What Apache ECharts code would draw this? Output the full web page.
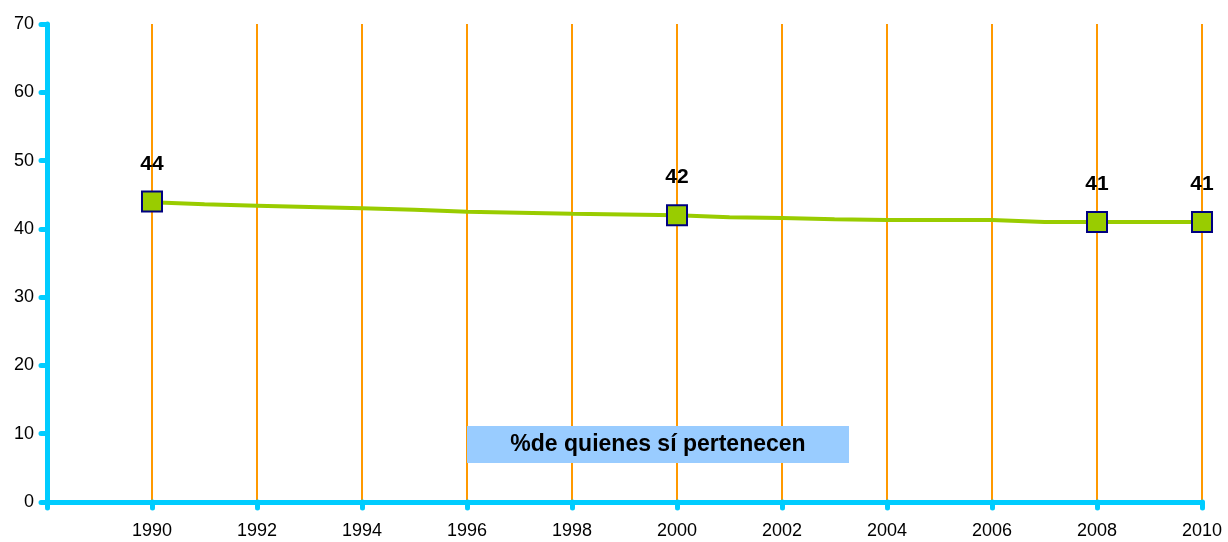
<!DOCTYPE html>
<html>
<head>
<meta charset="utf-8">
<script src="https://cdn.jsdelivr.net/npm/echarts@6/dist/echarts.min.js"></script>
<style>
  html, body { margin: 0; padding: 0; background: #fff; }
  #chart { width: 1228px; height: 542px; }
</style>
</head>
<body>
<div id="chart"></div>
<script>
// datos
var years = [1990, 1991, 1992, 1993, 1994, 1995, 1996, 1997, 1998, 1999, 2000,
             2001, 2002, 2003, 2004, 2005, 2006, 2007, 2008, 2009, 2010];
var pct = [43.9, 43.6, 43.4, 43.2, 43.0, 42.8, 42.5, 42.35, 42.2, 42.1, 42.0,
           41.7, 41.6, 41.4, 41.3, 41.3, 41.3, 41.0, 41.0, 41.0, 41.0];
var surveyYears = [1990, 2000, 2008, 2010];
var surveyValues = [44, 42, 41, 41];
var seriesName = '%de quienes sí pertenecen';

var myChart = echarts.init(document.getElementById('chart'));

var lineData = [];
for (var i = 0; i < years.length; i++) {
	lineData.push([years[i], pct[i]]);
}
var markData = [];
for (var j = 0; j < surveyYears.length; j++) {
	markData.push([surveyYears[j], surveyValues[j]]);
}

var axisColor = '#00CCFF';

option = {
	animation: false,
	grid: { left: 47, right: 26, top: 24, bottom: 40 },
	xAxis: {
		type: 'value',
		min: 1988,
		max: 2010,
		interval: 2,
		axisLine: { lineStyle: { color: axisColor, width: 5, cap: 'round' } },
		axisTick: { show: true, length: 6, lineStyle: { color: axisColor, width: 5, cap: 'round' } },
		axisLabel: {
			color: '#000',
			fontFamily: 'Liberation Sans, Arial',
			fontSize: 18,
			margin: 20,
			formatter: function (v) { return v === 1988 ? '' : String(v); }
		},
		splitLine: { show: true, lineStyle: { color: '#FF9900', width: 2 } }
	},
	yAxis: {
		type: 'value',
		min: 0,
		max: 70,
		interval: 10,
		axisLine: { show: true, lineStyle: { color: axisColor, width: 5, cap: 'round' } },
		axisTick: { show: true, length: 6, lineStyle: { color: axisColor, width: 5, cap: 'round' } },
		axisLabel: {
			color: '#000',
			fontFamily: 'Liberation Sans, Arial',
			fontSize: 18,
			margin: 13
		},
		splitLine: { show: false }
	},
	series: [
		{
			name: seriesName,
			type: 'line',
			data: lineData,
			showSymbol: false,
			lineStyle: { color: '#99CC00', width: 4 },
			z: 3
		},
		{
			name: seriesName,
			type: 'scatter',
			data: markData,
			symbol: 'rect',
			symbolSize: 20,
			itemStyle: { color: '#99CC00', borderColor: '#000080', borderWidth: 2, opacity: 1 },
			label: {
				show: true,
				position: 'top',
				distance: 16,
				color: '#000',
				fontWeight: 'bold',
				fontFamily: 'Liberation Sans, Arial',
				fontSize: 21,
				formatter: function (p) { return p.value[1]; }
			},
			z: 4
		}
	],
	graphic: [
		{
			type: 'rect',
			x: 467,
			y: 426,
			shape: { width: 382, height: 37 },
			style: { fill: '#99CCFF' },
			z: 10
		},
		{
			type: 'text',
			x: 658,
			y: 445,
			style: {
				text: seriesName,
				fill: '#000',
				font: 'bold 23px "Liberation Sans", Arial',
				align: 'center',
				verticalAlign: 'middle'
			},
			z: 11
		}
	]
};

myChart.setOption(option);
</script>
</body>
</html>
